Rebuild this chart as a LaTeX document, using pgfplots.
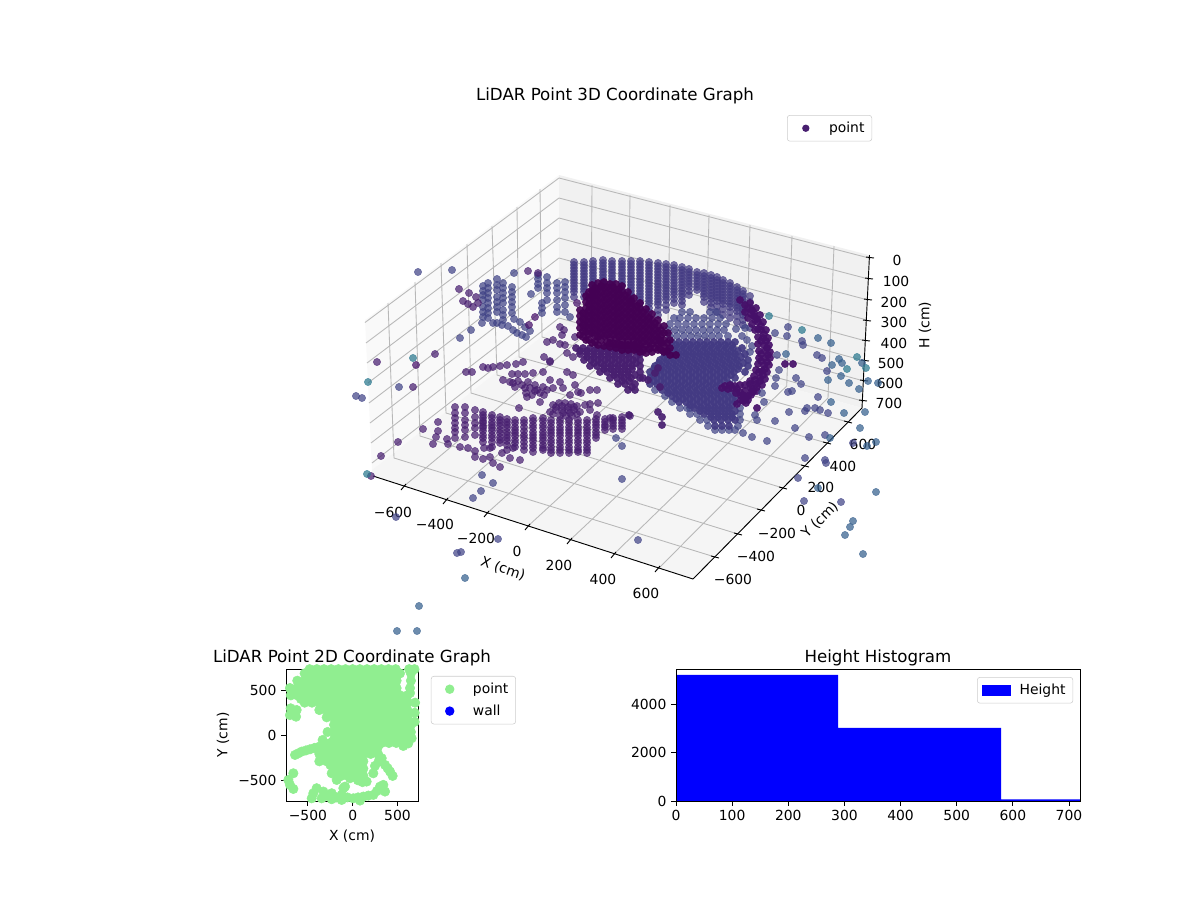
\documentclass[border=0pt]{standalone}
\usepackage{pgfplots}
\pgfplotsset{compat=1.18}
\usepackage{fontspec}
\setmainfont{DejaVu Sans}
\newcommand{\fs}{\fontsize{10.42}{12.5}\selectfont}
\newcommand{\ft}{\fontsize{12.5}{15}\selectfont}
\definecolor{ca}{HTML}{440154}
\definecolor{cb}{HTML}{46106A}
\definecolor{cc}{HTML}{481F70}
\definecolor{cd}{HTML}{433A83}
\definecolor{ci}{HTML}{414487}
\definecolor{ce}{HTML}{355F8D}
\definecolor{cf}{HTML}{2A788E}
\definecolor{gridc}{HTML}{B8B8B8}
\definecolor{lg}{HTML}{90EE90}
\pgfplotsset{
 P/.style={forget plot,only marks,mark=*,mark size=2.75pt,color=#1,mark options={fill=#1,fill opacity=.72,draw opacity=.72,line width=.3pt}},
 Q/.style={forget plot,only marks,mark=*,mark size=2.75pt,color=#1,mark options={fill=#1,fill opacity=.92,draw opacity=.92,line width=.3pt}},
 gl/.style={forget plot,no markers,color=gridc,line width=.65pt},
 ax/.style={forget plot,no markers,color=black,line width=.7pt},
 leg/.style={draw=black!20,rounded corners=2pt,fill=white,fill opacity=.8,text opacity=1,font=\fs,inner xsep=3.5pt,inner ysep=3pt},
 sub/.style={scale only axis,axis on top,axis line style={line width=.62pt},tick style={line width=.62pt,black},major tick length=3.65pt,tick align=outside,xtick pos=bottom,ytick pos=left,
  tick label style={font=\fs},label style={font=\fs},title style={font=\ft,yshift=-7.5pt}},
}
\newcommand{\dotimg}[2]{\addlegendimage{legend image code/.code={\path[draw=none,fill=none] (0pt,0pt) -- (20.8pt,0pt);\fill[#1,draw=none,sharp corners,fill opacity=1] (10.4pt,0pt) circle (#2);}}}
\begin{document}
\begin{tikzpicture}
% Screen-coordinate axis: the 3D view is read off the picture as projected positions (pixels).
\begin{axis}[at={(0,0)},anchor=south west,scale only axis,width=900pt,height=675pt,xmin=0,xmax=1200,ymin=0,ymax=900,y dir=reverse,hide axis,clip=false,
 legend style={at={(0.7267,0.8722)},anchor=north east,leg,legend cell align=left}]
\addplot[forget plot,draw=none] coordinates {(0,0)(1200,900)};
\addplot[forget plot,no markers,draw=none,fill=black!2.5] coordinates {(365,320)(559,175)(559,323)(372,470)} --cycle;
\addplot[forget plot,no markers,draw=none,fill=black!5.5] coordinates {(559,175)(869,255)(862,408)(559,323)} --cycle;
\addplot[forget plot,no markers,draw=none,fill=black!4] coordinates {(372,470)(559,323)(862,408)(693,579)(373,476)} --cycle;
\addplot[gl] coordinates {(365,322.5)(559,178)(869,258)};
\addplot[gl] coordinates {(366,343)(559,198)(868.5,279)};
\addplot[gl] coordinates {(367,363)(559,218)(868,300)};
\addplot[gl] coordinates {(368,383)(559,238)(867,320)};
\addplot[gl] coordinates {(369,403)(559,258)(866,341)};
\addplot[gl] coordinates {(370,423)(559,278)(865,361)};
\addplot[gl] coordinates {(371,443)(559,298)(864,381)};
\addplot[gl] coordinates {(372,463)(559,318)(862.5,401)};
\addplot[gl] coordinates {(403,487)(591,330)(592,185)};
\addplot[gl] coordinates {(445,501)(628,341)(630,195)};
\addplot[gl] coordinates {(486,514)(667.5,352)(670,205)};
\addplot[gl] coordinates {(527,527)(705.6,363)(709,215)};
\addplot[gl] coordinates {(569,541)(745.7,375)(750,225)};
\addplot[gl] coordinates {(613,555)(786.7,386)(792,236)};
\addplot[gl] coordinates {(657,570)(828,398)(834,246)};
\addplot[gl] coordinates {(715,557)(394,458)(388,303)};
\addplot[gl] coordinates {(738,534)(420,436)(415,282)};
\addplot[gl] coordinates {(761,510)(446,413)(441,263)};
\addplot[gl] coordinates {(783,488)(471,393)(467,244)};
\addplot[gl] coordinates {(805,466)(497,375)(492,226)};
\addplot[gl] coordinates {(827,443)(519,357)(517,207)};
\addplot[gl] coordinates {(848,422)(542,337)(540,189)};
\addplot[ax] coordinates {(373,476)(693,579)};
\addplot[ax] coordinates {(693,579)(862,408)};
\addplot[ax] coordinates {(869.5,255)(862,408)};
\addplot[ax] coordinates {(406,484)(401,490)};\addplot[ax] coordinates {(448,498)(443,504)};\addplot[ax] coordinates {(489,511)(484,517)};\addplot[ax] coordinates {(530,524)(525,530)};\addplot[ax] coordinates {(572,538)(567,544)};\addplot[ax] coordinates {(616,552)(611,558)};\addplot[ax] coordinates {(660,566)(655,572)};
\addplot[ax] coordinates {(711,556)(719,558)};\addplot[ax] coordinates {(734,533)(742,535)};\addplot[ax] coordinates {(757,509)(765,511)};\addplot[ax] coordinates {(779,487)(787,489)};\addplot[ax] coordinates {(801,465)(809,467)};\addplot[ax] coordinates {(823,442)(831,444)};\addplot[ax] coordinates {(844,421)(852,423)};
\addplot[ax] coordinates {(866,257)(874,258)};\addplot[ax] coordinates {(865,278)(873,279)};\addplot[ax] coordinates {(864,299)(872,300)};\addplot[ax] coordinates {(863,320)(871,321)};\addplot[ax] coordinates {(862,340)(870,341)};\addplot[ax] coordinates {(861,360)(869,361)};\addplot[ax] coordinates {(860,380)(868,381)};\addplot[ax] coordinates {(859,400)(867,401)};
% back columns
\addplot[P=cd] coordinates {(574,262)(574,268)(574,274)(574,280)(574,286)(574,292)(574,297)(584,262)(584,268)(584,274)(584,280)(584,286)(584,292)(584,297)(593,261)(593,267)(593,273)(593,279)(593,285)(593,291)(593,296)(603,260)(603,266)(603,272)(603,278)(603,284)(612,261)(612,267)(612,273)(612,279)(612,285)(622,261)(622,267)(622,273)(622,279)(622,285)(622,290)(631,261)(631,267)(631,273)(631,279)(631,285)(631,291)(631,297)(631,303)(640,261)(640,267)(640,273)(640,279)(640,285)(640,291)(640,297)(640,303)(640,308)(649,262)(649,268)(649,274)(649,280)(649,286)(649,292)(649,298)(649,304)(649,312)(658,263)(658,269)(658,275)(658,281)(658,287)(658,293)(658,299)(658,305)(658,315)(666,264)(666,270)(666,276)(666,282)(666,288)(666,294)(666,300)(666,310)(674,265)(674,271)(674,277)(674,283)(674,289)(674,295)(674,303)(682,267)(682,273)(682,279)(682,285)(682,291)(682,297)(682,305)(689,269)(689,275)(689,281)(689,287)(689,295)(697,272)(697,278)(697,284)(697,290)(704,273)(704,279)(704,285)(704,291)(704,297)(704,302)(711,275)(711,281)(711,287)(711,293)(711,299)(711,307)(717,277)(717,283)(717,289)(717,295)(717,301)(717,312)(723,280)(723,286)(723,292)(723,298)(723,304)(723,315)(730,283)(730,289)(730,295)(730,301)(730,307)(730,318)(737,287)(737,293)(737,299)(737,305)(737,311)(737,322)(743,291)(743,297)(743,303)(743,309)(743,315)(743,325)(750,296)(750,302)(750,308)(750,328)
(574,265)(574,271)(574,277)(574,283)(574,289)(584,265)(584,271)(584,277)(584,283)(584,289)(593,264)(593,270)(593,276)(593,282)(603,263)(603,269)(603,275)(603,281)(612,264)(612,270)(612,276)(612,282)(622,264)(622,270)(622,276)(622,282)(631,264)(631,270)(631,276)(631,282)(631,288)(631,294)(631,300)(640,264)(640,270)(640,276)(640,282)(640,288)(640,294)(640,300)(649,265)(649,271)(649,277)(649,283)(649,289)(649,295)(649,301)(649,308)(658,266)(658,272)(658,278)(658,284)(658,290)(658,296)(658,302)(658,310)(666,267)(666,273)(666,279)(666,285)(666,291)(666,297)(666,305)(674,268)(674,274)(674,280)(674,286)(674,292)(674,299)(682,270)(682,276)(682,282)(682,288)(682,294)(682,301)(689,272)(689,278)(689,284)(689,291)(697,275)(697,281)(697,287)(704,276)(704,282)(704,288)(704,294)(711,278)(711,284)(711,290)(711,296)(711,303)(717,280)(717,286)(717,292)(717,298)(717,306)(723,283)(723,289)(723,295)(723,301)(723,309)(730,286)(730,292)(730,298)(730,304)(730,312)(737,290)(737,296)(737,302)(737,308)(737,316)(743,294)(743,300)(743,306)(743,312)(743,320)};
% left strands
\addplot[P=ci] coordinates {(483,286)(483,291)(483,295)(483,300)(483,307)(483,312)(483,317)(488,283)(488,288)(488,293)(488,298)(488,303)(488,308)(488,313)(488,318)(497,279)(497,285)(497,290)(497,297)(497,302)(497,307)(497,312)(497,323)(503,283)(503,288)(503,293)(503,298)(503,303)(503,310)(503,315)(503,320)(512,287)(512,292)(512,297)(512,302)(512,307)(512,313)(418,272)(452,270)(514,273)(538,275)(538,279)(538,284)(538,288)(547,277)(547,283)(547,288)(547,293)(547,300)(542,303)(542,308)(542,313)(531,294)(557,283)(557,288)(557,293)(557,300)(557,307)(557,312)(565,282)(565,287)(565,292)(565,298)(565,305)(565,312)(570,317)(460,338)(471,330)(482,323)(493,323)(502,325)(508,326)(514,319)(520,322)(513,330)(517,333)(522,335)(526,337)(530,331)(525,327)(399,387)(356,396)(362,398)};
\addplot[P=cc] coordinates {(459,289)(528,271)(538,273)(469,293)(476,297)(463,301)(468,304)(473,307)(478,303)(547,342)(553,340)(560,327)(564,330)(562,335)(575,337)(560,344)(565,345)(544,357)(550,361)(567,353)(573,357)(435,354)(377,362)(413,387)};
\addplot[P=cb] coordinates {(529,325)(535,317)(577,303)(416,365)};
% middle cluster
\addplot[P=cc] coordinates {(466,372)(472,372)(483,367)(488,368)(493,367)(500,366)(507,365)(516,364)(523,362)(503,380)(512,374)(518,374)(525,374)(533,373)(543,372)(550,362)(513,383)(522,385)(530,388)(537,390)(543,387)(550,380)(560,382)(553,388)(532,395)(540,393)(547,390)(527,397)(540,402)(519,408)(567,372)(573,375)(563,388)(570,395)(578,392)(575,385)(590,390)(597,390)(515,387)(525,388)(535,385)(510,382)(518,381)(528,382)(526,393)(535,391)(544,395)(553,405)(559,403)(565,403)(571,404)(577,406)(556,410)(562,410)(568,410)(574,410)(580,412)(560,416)(566,416)(572,416)(550,412)(585,405)(590,404)(598,403)(590,410)(597,415)(610,418)(630,416)(581,393)(556,407)(562,406)(568,407)(574,407)(553,414)(563,413)(570,413)(577,414)};
% front columns
\addplot[P=cc] coordinates {(455,407)(455,413)(455,418)(455,423)(455,428)(455,432)(465,407)(465,413)(465,420)(465,425)(465,430)(475,410)(475,417)(475,423)(475,428)(475,435)(483,412)(483,418)(483,423)(483,428)(483,435)(483,442)(492,415)(492,422)(492,428)(492,435)(492,442)(492,447)(500,417)(500,423)(500,430)(500,437)(500,443)(507,419)(507,425)(507,432)(507,438)(507,445)(507,450)(515,420)(515,427)(515,433)(515,440)(515,447)(524,420)(524,427)(524,435)(524,442)(524,450)(533,418)(533,425)(533,432)(533,438)(533,445)(533,452)(543,418)(543,425)(543,432)(543,438)(543,445)(543,450)(551,420)(551,427)(551,433)(551,440)(551,447)(551,453)(560,420)(560,427)(560,433)(560,440)(560,447)(560,453)(569,420)(569,427)(569,433)(569,440)(569,447)(569,453)(578,420)(578,427)(578,433)(578,440)(578,447)(578,452)(587,420)(587,427)(587,433)(587,440)(587,447)(587,453)(596,419)(596,425)(596,432)(596,438)(605,419)(605,425)(605,430)(613,418)(613,423)(613,429)(622,417)(622,423)(622,429)
(533,421)(533,428)(533,435)(533,441)(533,448)(543,421)(543,428)(543,435)(543,441)(543,448)(551,423)(551,430)(551,436)(551,443)(551,450)(560,423)(560,430)(560,436)(560,443)(560,450)(569,423)(569,430)(569,436)(569,443)(569,450)(578,423)(578,430)(578,436)(578,443)(578,450)(587,423)(587,430)(587,436)(587,443)(587,450)
(483,415)(483,421)(483,426)(483,431)(483,438)(492,418)(492,425)(492,431)(492,438)(500,420)(500,426)(500,433)(500,440)(507,422)(507,428)(507,435)(507,441)(515,423)(515,430)(515,436)(515,443)(524,423)(524,431)(524,438)(524,446)(596,422)(596,428)(596,435)(605,422)(605,427)(613,420)(613,426)(622,420)(622,426)
(438,422)(438,431)(423,429)(436,437)(433,444)(447,439)(448,444)(455,438)(460,447)(465,437)(468,448)(475,451)(484,448)(490,448)(475,457)(483,459)(493,463)(500,467)(490,457)(502,453)(510,458)(513,448)(520,460)(398,442)(381,456)(371,476)};
\addplot[P=ci] coordinates {(482,475)(493,483)(481,491)(473,498)(396,517)(498,539)(457,553)(461,552)(616,438)(622,446)(622,479)(638,540)};
\addplot[P=ce] coordinates {(465,578)(419,606)(397,631)(417,631)};
\addplot[P=cf] coordinates {(368,382)(367,474)(413,358)};
% fan
\addplot[P=ci] coordinates {(682,312)(690,312)(710,312)(716,312)(674,318)(680,318)(688,318)(696,318)(704,318)(712,318)(720,318)(670,324)(678,324)(686,324)(694,324)(702,324)(710,324)(718,324)(726,324)(668,330)(675,330)(682,330)(689,330)(696,330)(703,330)(710,330)(717,330)(724,330)(736,329)(670,336)(677,336)(684,336)(691,336)(698,336)(705,336)(712,336)(719,336)(728,336)(747,340)(690,408)(697,414)(700,420)(707,420)(708,426)(715,430)(722,430)(729,430)(735,430)(738,426)(740,420)(740,414)(740,408)(680,408)(687,408)(690,414)(672,402)(665,396)(655,390)(745,328)(752,346)(750,352)(742,336)};
\addplot[Q=cd] coordinates {(672,342)(679,342)(686,342)(693,342)(700,342)(707,342)(714,342)(721,342)(728,342)(735,342)(670,348)(677,348)(684,348)(691,348)(698,348)(705,348)(712,348)(719,348)(726,348)(733,348)(742,348)(665,354)(672,354)(679,354)(686,354)(693,354)(700,354)(707,354)(714,354)(721,354)(728,354)(735,354)(745,354)(660,360)(667,360)(674,360)(681,360)(688,360)(695,360)(702,360)(709,360)(716,360)(723,360)(730,360)(737,360)(748,360)(655,366)(662,366)(669,366)(676,366)(683,366)(690,366)(697,366)(704,366)(711,366)(718,366)(725,366)(732,366)(739,366)(748,366)(650,372)(657,372)(664,372)(671,372)(678,372)(685,372)(692,372)(699,372)(706,372)(713,372)(720,372)(727,372)(734,372)(745,372)(650,378)(657,378)(664,378)(671,378)(678,378)(685,378)(692,378)(699,378)(706,378)(713,378)(720,378)(727,378)(735,378)(650,384)(657,384)(664,384)(671,384)(678,384)(685,384)(692,384)(699,384)(706,384)(713,384)(720,384)(730,384)(662,390)(669,390)(676,390)(683,390)(690,390)(697,390)(704,390)(711,390)(718,390)(725,390)(672,396)(679,396)(686,396)(693,396)(700,396)(707,396)(714,396)(721,396)(728,396)(735,396)(679,402)(686,402)(693,402)(700,402)(707,402)(714,402)(721,402)(728,402)(735,402)(694,408)(701,408)(708,408)(715,408)(722,408)(729,408)(704,414)(711,414)(718,414)(725,414)(732,414)(714,420)(721,420)(728,420)(735,420)(715,426)(722,426)(729,426)
(676,345)(683,345)(690,345)(697,345)(704,345)(711,345)(718,345)(725,345)(732,345)(668,351)(675,351)(682,351)(689,351)(696,351)(703,351)(710,351)(717,351)(724,351)(731,351)(738,351)(664,357)(671,357)(678,357)(685,357)(692,357)(699,357)(706,357)(713,357)(720,357)(727,357)(734,357)(741,357)(659,363)(666,363)(673,363)(680,363)(687,363)(694,363)(701,363)(708,363)(715,363)(722,363)(729,363)(736,363)(743,363)(654,369)(661,369)(668,369)(675,369)(682,369)(689,369)(696,369)(703,369)(710,369)(717,369)(724,369)(731,369)(738,369)(654,375)(661,375)(668,375)(675,375)(682,375)(689,375)(696,375)(703,375)(710,375)(717,375)(724,375)(731,375)(654,381)(661,381)(668,381)(675,381)(682,381)(689,381)(696,381)(703,381)(710,381)(717,381)(724,381)(660,387)(667,387)(674,387)(681,387)(688,387)(695,387)(702,387)(709,387)(716,387)(668,393)(675,393)(682,393)(689,393)(696,393)(703,393)(710,393)(717,393)(724,393)(731,393)(676,399)(683,399)(690,399)(697,399)(704,399)(711,399)(718,399)(725,399)(732,399)(690,405)(697,405)(704,405)(711,405)(718,405)(725,405)(732,405)(700,411)(707,411)(714,411)(721,411)(728,411)(735,411)(711,417)(718,417)(725,417)(732,417)};
% mass under the blob
\addplot[Q=cc] coordinates {(576,348)(583,348)(590,348)(597,348)(604,348)(611,348)(618,348)(625,348)(632,348)(639,348)(650,348)(580,354)(587,354)(594,354)(601,354)(608,354)(615,354)(622,354)(629,354)(640,354)(584,360)(591,360)(598,360)(605,360)(612,360)(619,360)(626,360)(633,360)(640,360)(590,366)(597,366)(604,366)(611,366)(618,366)(625,366)(632,366)(640,366)(600,372)(607,372)(614,372)(621,372)(628,372)(640,372)(610,378)(617,378)(624,378)(631,378)(640,378)(618,384)(625,384)(635,384)(628,390)(635,390)(643,378)(648,380)(658,368)(655,373)(660,387)(658,412)(662,417)(662,425)(629,415)(580,351)(587,351)(594,351)(601,351)(608,351)(615,351)(622,351)(629,351)(636,351)(643,351)(587,357)(594,357)(601,357)(608,357)(615,357)(622,357)(629,357)(636,357)(594,363)(601,363)(608,363)(615,363)(622,363)(629,363)(636,363)(604,369)(611,369)(618,369)(625,369)(632,369)(614,375)(621,375)(628,375)(635,375)(622,381)(629,381)(632,387)};
% blob
\addplot[Q=ca] coordinates {(580,310)(580,316)(580,322)(580,328)(580,335)(586,296)(586,302)(586,308)(586,314)(586,320)(586,326)(586,332)(586,340)(592,285)(592,291)(592,297)(592,303)(592,309)(592,315)(592,321)(592,327)(592,333)(592,343)(598,283)(598,289)(598,295)(598,301)(598,307)(598,313)(598,319)(598,325)(598,331)(598,337)(598,345)(604,282)(604,288)(604,294)(604,300)(604,306)(604,312)(604,318)(604,324)(604,330)(604,336)(604,346)(610,284)(610,290)(610,296)(610,302)(610,308)(610,314)(610,320)(610,326)(610,332)(610,338)(610,347)(616,284)(616,290)(616,296)(616,302)(616,308)(616,314)(616,320)(616,326)(616,332)(616,338)(616,348)(622,286)(622,292)(622,298)(622,304)(622,310)(622,316)(622,322)(622,328)(622,334)(622,340)(622,350)(628,292)(628,298)(628,304)(628,310)(628,316)(628,322)(628,328)(628,334)(628,340)(628,350)(634,298)(634,304)(634,310)(634,316)(634,322)(634,328)(634,334)(634,340)(634,350)(640,303)(640,309)(640,315)(640,321)(640,327)(640,333)(640,339)(640,345)(640,352)(646,309)(646,315)(646,321)(646,327)(646,333)(646,339)(646,345)(646,353)(652,314)(652,320)(652,326)(652,332)(652,338)(652,344)(652,352)(658,320)(658,326)(658,332)(658,338)(658,344)(658,350)(664,326)(664,333)(664,340)(664,346)(664,352)(670,340)(670,348)(670,355)(676,355)(660,340)(668,333)
(583,313)(583,319)(583,325)(583,331)(583,337)(589,292)(589,298)(589,304)(589,310)(589,316)(589,322)(589,328)(589,334)(589,340)(595,288)(595,294)(595,300)(595,306)(595,312)(595,318)(595,324)(595,330)(595,336)(595,342)(601,286)(601,292)(601,298)(601,304)(601,310)(601,316)(601,322)(601,328)(601,334)(601,340)(607,287)(607,293)(607,299)(607,305)(607,311)(607,317)(607,323)(607,329)(607,335)(607,342)(613,287)(613,293)(613,299)(613,305)(613,311)(613,317)(613,323)(613,329)(613,335)(613,343)(619,289)(619,295)(619,301)(619,307)(619,313)(619,319)(619,325)(619,331)(619,337)(619,344)(625,295)(625,301)(625,307)(625,313)(625,319)(625,325)(625,331)(625,337)(625,345)(631,301)(631,307)(631,313)(631,319)(631,325)(631,331)(631,337)(631,345)(637,306)(637,312)(637,318)(637,324)(637,330)(637,336)(637,342)(637,348)(643,312)(643,318)(643,324)(643,330)(643,336)(643,342)(643,349)(649,318)(649,324)(649,330)(649,336)(649,342)(649,349)(655,323)(655,329)(655,335)(655,341)(655,348)(661,330)(661,336)(661,343)(661,350)(667,343)(667,351)(610,343)(616,344)(622,345)(628,345)(634,345)};
% arc
\addplot[Q=cb] coordinates {(740,300)(745,305)(750,303)(752,310)(756,308)(745,312)(748,318)(754,316)(760,315)(752,324)(758,322)(763,322)(755,330)(761,330)(766,330)(758,337)(763,338)(768,338)(758,344)(764,345)(769,345)(759,351)(765,351)(770,352)(759,358)(765,358)(770,358)(758,364)(764,365)(769,365)(756,370)(762,371)(767,372)(754,376)(760,378)(765,379)(750,381)(756,384)(762,385)(745,385)(751,388)(757,391)(740,385)(745,391)(751,395)(735,386)(740,392)(746,398)(741,400)(746,403)(730,385)(725,386)(722,388)(737,404)(785,364)(793,364)(757,408)
(748,308)(754,313)(757,319)(761,326)(764,334)(766,341)(767,348)(768,355)(767,362)(765,369)(763,375)(760,381)(757,387)(753,392)(748,396)(743,395)(737,389)(732,388)(728,389)(736,393)(741,396)(750,384)(755,380)(759,372)(761,361)(761,354)(761,341)(758,329)(755,320)(751,314)(743,401)(748,400)(752,391)};
% right scatter
\addplot[P=ci] coordinates {(775,333)(788,327)(787,336)(802,341)(803,345)(817,355)(822,358)(827,371)(796,378)(801,384)(792,391)(788,392)(777,355)(779,370)(776,378)(775,386)(762,393)(764,402)(789,412)(805,411)(807,408)(815,408)(820,410)(818,397)(828,413)(853,443)(775,421)(757,420)(755,415)(752,437)(767,441)(743,433)(795,428)(809,437)(825,435)(805,458)(825,460)(826,463)(798,478)(804,501)(841,502)};
\addplot[P=ce] coordinates {(831,343)(818,338)(832,365)(841,376)(849,383)(859,389)(868,381)(878,383)(862,363)(839,359)(842,363)(828,380)(831,402)(844,413)(865,412)(860,428)(876,442)(867,446)(876,492)(853,521)(850,527)(845,535)(863,554)(830,438)(818,488)(786,354)};
\addplot[P=cf] coordinates {(769,316)(802,330)(857,357)(847,369)(866,368)};
\node[font=\ft] at (axis cs:615,96) {LiDAR Point 3D Coordinate Graph};
\node[font=\fs] at (axis cs:393,512) {−600};\node[font=\fs] at (axis cs:435,524) {−400};\node[font=\fs] at (axis cs:476,538) {−200};\node[font=\fs] at (axis cs:517,551) {0};\node[font=\fs] at (axis cs:559,565) {200};\node[font=\fs] at (axis cs:603,579) {400};\node[font=\fs] at (axis cs:646,593) {600};
\node[font=\fs] at (axis cs:863,444) {600};\node[font=\fs] at (axis cs:843,466) {400};\node[font=\fs] at (axis cs:821,487) {200};\node[font=\fs] at (axis cs:801,510) {0};\node[font=\fs] at (axis cs:777,533) {−200};\node[font=\fs] at (axis cs:756,556) {−400};\node[font=\fs] at (axis cs:733,579) {−600};
\node[font=\fs] at (axis cs:897,260) {0};\node[font=\fs] at (axis cs:896,281) {100};\node[font=\fs] at (axis cs:894,302) {200};\node[font=\fs] at (axis cs:894,322) {300};\node[font=\fs] at (axis cs:894,343) {400};\node[font=\fs] at (axis cs:891,363) {500};\node[font=\fs] at (axis cs:890,383) {600};\node[font=\fs] at (axis cs:889,403) {700};
\node[font=\fs,rotate=-19] at (axis cs:503,569) {X (cm)};
\node[font=\fs,rotate=45] at (axis cs:820,520) {Y (cm)};
\node[font=\fs,rotate=90] at (axis cs:925,325) {H (cm)};
\dotimg{cc}{2.75pt}
\addlegendentry{\hspace{5pt}point}
\end{axis}
% 2D panel
\begin{axis}[sub,at={(214.5pt,74.25pt)},anchor=south west,width=99pt,height=99pt,xmin=-744,xmax=729,ymin=-730,ymax=737,
 xtick={-500,0,500},xticklabels={−500,0,500},ytick={-500,0,500},yticklabels={−500,0,500},
 xlabel={X (cm)},ylabel={Y (cm)},title={LiDAR Point 2D Coordinate Graph},
 legend style={at={(1.098,0.947)},anchor=north west,leg,legend cell align=left,row sep=3pt}]
\addplot[forget plot,only marks,mark=*,mark size=3.55pt,color=lg,mark options={fill=lg}] coordinates {
(-480,735)(-400,735)(-320,735)(-240,735)(-160,735)(-80,735)(0,735)(80,735)(160,735)(240,735)(320,735)(400,735)(480,735)(630,735)(690,735)
(-536,688)(-454,688)(-372,688)(-290,688)(-208,688)(-126,688)(-45,688)(37,688)(119,688)(201,688)(283,688)(365,688)(446,688)(528,688)(650,688)
(-618,607)(-536,607)(-454,607)(-372,607)(-290,607)(-208,607)(-126,607)(-45,607)(37,607)(119,607)(201,607)(283,607)(365,607)(446,607)(490,607)(650,607)
(-700,525)(-618,525)(-536,525)(-454,525)(-372,525)(-290,525)(-208,525)(-126,525)(-45,525)(37,525)(119,525)(201,525)(283,525)(365,525)(446,525)(490,525)(640,525)
(-690,444)(-618,444)(-536,444)(-454,444)(-372,444)(-290,444)(-208,444)(-126,444)(-45,444)(37,444)(119,444)(201,444)(283,444)(365,444)(446,444)(528,444)(610,444)
(-536,363)(-454,363)(-372,363)(-290,363)(-208,363)(-126,363)(-45,363)(37,363)(119,363)(201,363)(283,363)(365,363)(446,363)(528,363)(610,363)(696,363)
(-372,281)(-290,281)(-208,281)(-126,281)(-45,281)(37,281)(119,281)(201,281)(283,281)(365,281)(446,281)(528,281)(610,281)
(-692,300)(-625,281)(-700,225)(-632,207)
(-290,200)(-208,200)(-126,200)(-45,200)(37,200)(119,200)(201,200)(283,200)(365,200)(446,200)(528,200)(610,200)(692,250)(692,150)
(-208,118)(-126,118)(-45,118)(37,118)(119,118)(201,118)(283,118)(365,118)(446,118)(528,118)(610,118)(650,118)
(-280,37)(-208,37)(-126,37)(-45,37)(37,37)(119,37)(201,37)(283,37)(365,37)(446,37)(528,37)(610,37)(650,37)
(-208,-44)(-126,-44)(-45,-44)(37,-44)(119,-44)(201,-44)(283,-44)(365,-44)(446,-44)(528,-44)(610,-44)(-335,-52)
(-372,-126)(-290,-126)(-208,-126)(-126,-126)(-45,-126)(37,-126)(119,-126)(201,-126)(283,-126)(565,-118)(620,-90)(658,-33)
(-643,-218)(-606,-200)(-569,-181)(-522,-168)(-476,-155)(-425,-140)
(-372,-207)(-290,-207)(-208,-207)(-126,-207)(-45,-207)(37,-207)(119,-207)(201,-207)(283,-207)
(-372,-289)(-290,-289)(-208,-289)(-126,-289)(-45,-289)(37,-289)(119,-289)(324,-255)
(-208,-370)(-126,-370)(-45,-370)(37,-370)(119,-370)(249,-340)(361,-329)
(230,-422)(417,-403)(446,-451)(290,-290)(390,-366)
(-234,-422)(-126,-451)(-45,-451)(37,-451)(119,-451)(156,-514)(-178,-496)(-85,-570)(-30,-477)(60,-500)(110,-520)
(-662,-422)(-718,-496)(-662,-596)(-700,-550)
(-402,-588)(-439,-644)(-327,-625)(-457,-700)(-346,-700)(-234,-644)(-234,-710)(-123,-662)(-123,-718)(-104,-588)(7,-700)(119,-681)(231,-662)(305,-570)(342,-551)(361,-625)(82,-725)(-290,-670)(-180,-690)(-60,-690)(60,-690)(175,-670)(270,-620)
(-495,648)(-413,648)(-331,648)(-249,648)(-167,648)(-86,648)(-4,648)(78,648)(160,648)(242,648)(324,648)(405,648)(487,648)
(-577,566)(-495,566)(-413,566)(-331,566)(-249,566)(-167,566)(-86,566)(-4,566)(78,566)(160,566)(242,566)(324,566)(405,566)(470,566)
(-660,485)(-577,485)(-495,485)(-413,485)(-331,485)(-249,485)(-167,485)(-86,485)(-4,485)(78,485)(160,485)(242,485)(324,485)(405,485)(490,485)(640,470)
(-577,404)(-495,404)(-413,404)(-331,404)(-249,404)(-167,404)(-86,404)(-4,404)(78,404)(160,404)(242,404)(324,404)(405,404)(487,404)(569,404)
(-331,322)(-249,322)(-167,322)(-86,322)(-4,322)(78,322)(160,322)(242,322)(324,322)(405,322)(487,322)(569,322)
(-249,241)(-167,241)(-86,241)(-4,241)(78,241)(160,241)(242,241)(324,241)(405,241)(487,241)(569,241)
(-167,159)(-86,159)(-4,159)(78,159)(160,159)(242,159)(324,159)(405,159)(487,159)(569,159)
(-167,78)(-86,78)(-4,78)(78,78)(160,78)(242,78)(324,78)(405,78)(487,78)(569,78)
(-167,-4)(-86,-4)(-4,-4)(78,-4)(160,-4)(242,-4)(324,-4)(405,-4)(487,-4)(569,-4)
(-249,-85)(-167,-85)(-86,-85)(-4,-85)(78,-85)(160,-85)(242,-85)(324,-85)(405,-85)(487,-85)
(-331,-166)(-249,-166)(-167,-166)(-86,-166)(-4,-166)(78,-166)(160,-166)(242,-166)
(-331,-248)(-249,-248)(-167,-248)(-86,-248)(-4,-248)(78,-248)
(-249,-329)(-167,-329)(-86,-329)(-4,-329)(78,-329)(-167,-410)(-86,-410)(-4,-410)(78,-410)};
\dotimg{lg}{3.55pt}
\addlegendentry{\hspace{5pt}point}
\dotimg{blue}{3.55pt}
\addlegendentry{\hspace{5pt}wall}
\end{axis}
% histogram
\begin{axis}[sub,at={(507pt,74.25pt)},anchor=south west,width=303pt,height=99pt,xmin=0,xmax=719.6,ymin=0,ymax=5477,
 xtick={0,100,...,700},ytick={0,2000,4000},scaled y ticks=false,yticklabel style={/pgf/number format/1000 sep={}},
 /pgf/number format/assume math mode=true,
 title={Height Histogram},
 legend style={at={(0.983,0.939)},anchor=north east,leg,legend cell align=left}]
\addplot[forget plot,ybar interval,fill=blue,draw=none] coordinates {(0,5228)(288.6,3029)(578.9,70)(868,70)};
\addlegendimage{legend image code/.code={\fill[blue,sharp corners,fill opacity=1] (0pt,-3.7pt) rectangle (20.8pt,3.7pt);}}
\addlegendentry{\hspace{5pt}Height}
\end{axis}
\end{tikzpicture}
\end{document}
